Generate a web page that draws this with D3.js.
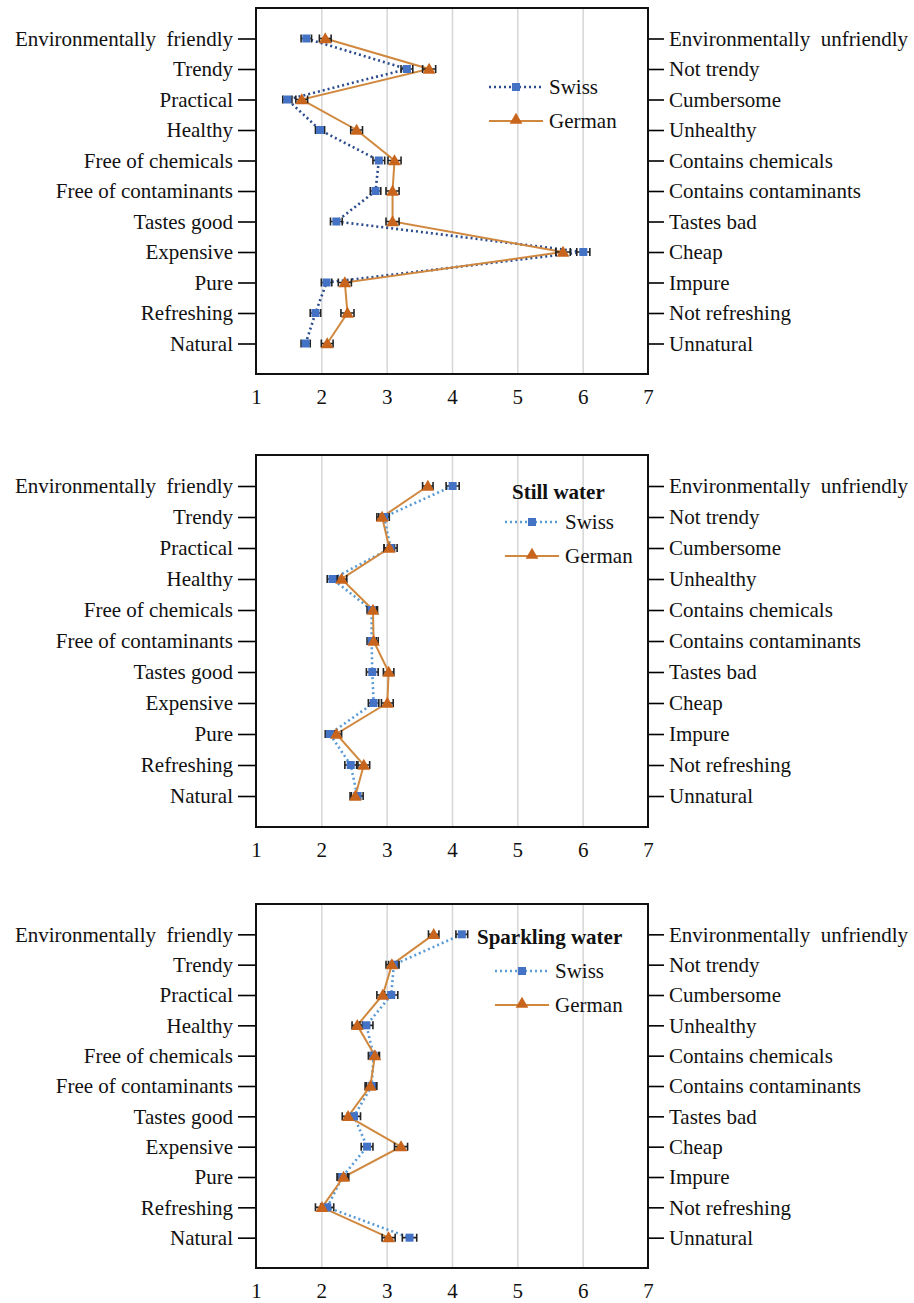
<!DOCTYPE html>
<html>
  <head>
    <meta charset="utf-8">
    <title></title>
    <style>
      body {
        margin: 0;
        background: #fff;
      }
      svg {
        display: block;
        font-family: "Liberation Serif", "Times New Roman", serif;
      }
      .axis .domain {
        stroke: none;
      }
      .labels line {
        stroke: #000;
        stroke-width: 1.6;
      }
      .labels text {
        font-family: "Liberation Serif", "Times New Roman", serif;
        font-size: 21px;
        fill: #111;
        white-space: pre;
      }
      .grid line {
        stroke: #d6d6d6;
        stroke-width: 1.5;
      }
    </style>
  </head>
  <body>
    <svg id="chart" width="914" height="1303"></svg>
    <script src="https://cdn.jsdelivr.net/npm/d3@7"></script>
    <script>

      // semantic differential, pole on the left = 1, pole on the right = 7
      let leftLabels = ["Environmentally  friendly", "Trendy", "Practical", "Healthy", "Free of chemicals",
        "Free of contaminants", "Tastes good", "Expensive", "Pure", "Refreshing", "Natural"];
      let rightLabels = ["Environmentally  unfriendly", "Not trendy", "Cumbersome", "Unhealthy", "Contains chemicals",
        "Contains contaminants", "Tastes bad", "Cheap", "Impure", "Not refreshing", "Unnatural"];
      let xTicks = [1, 2, 3, 4, 5, 6, 7];
      let seriesNames = ["Swiss", "German"];
      let panelTitles = [null, "Still water", "Sparkling water"];

      // all water
      let allSwiss = [1.77, 3.31, 1.48, 1.98, 2.88, 2.83, 2.23, 6.01, 2.08, 1.91, 1.76];
      let allSwissErr = [0.08, 0.09, 0.07, 0.07, 0.09, 0.08, 0.09, 0.10, 0.08, 0.08, 0.07];
      let allGerman = [2.06, 3.65, 1.70, 2.54, 3.12, 3.09, 3.09, 5.70, 2.36, 2.40, 2.09];
      let allGermanErr = [0.09, 0.10, 0.09, 0.09, 0.10, 0.10, 0.10, 0.11, 0.10, 0.10, 0.09];

      // still water
      let stillSwiss = [4.01, 2.96, 3.06, 2.17, 2.77, 2.77, 2.78, 2.80, 2.13, 2.45, 2.55];
      let stillSwissErr = [0.10, 0.08, 0.10, 0.08, 0.07, 0.07, 0.09, 0.08, 0.07, 0.09, 0.09];
      let stillGerman = [3.63, 2.93, 3.04, 2.31, 2.79, 2.80, 3.03, 3.01, 2.23, 2.65, 2.52];
      let stillGermanErr = [0.08, 0.08, 0.08, 0.08, 0.07, 0.07, 0.08, 0.09, 0.08, 0.09, 0.08];

      // sparkling water
      let sparkSwiss = [4.15, 3.11, 3.07, 2.69, 2.80, 2.77, 2.50, 2.70, 2.32, 2.09, 3.35];
      let sparkSwissErr = [0.09, 0.08, 0.10, 0.10, 0.08, 0.08, 0.10, 0.09, 0.08, 0.10, 0.11];
      let sparkGerman = [3.72, 3.08, 2.94, 2.55, 2.82, 2.75, 2.41, 3.22, 2.34, 2.01, 3.03];
      let sparkGermanErr = [0.08, 0.09, 0.09, 0.08, 0.07, 0.08, 0.09, 0.10, 0.08, 0.10, 0.10];

      let panels = [
        {top: 8, bottom: 374, swiss: allSwiss, swissErr: allSwissErr, german: allGerman, germanErr: allGermanErr,
          swissLine: "#2b4c8c", legend: {x: 489, y: 87}},
        {top: 455, bottom: 827, swiss: stillSwiss, swissErr: stillSwissErr, german: stillGerman, germanErr: stillGermanErr,
          swissLine: "#5b9bd5", legend: {x: 505, y: 522, titleX: 512, titleY: 492}},
        {top: 904, bottom: 1268, swiss: sparkSwiss, swissErr: sparkSwissErr, german: sparkGerman, germanErr: sparkGermanErr,
          swissLine: "#5b9bd5", legend: {x: 495, y: 971, titleX: 477, titleY: 937}}
      ];

      let svg = d3.select("#chart");
      let left = 256, right = 648;
      let swissFill = "#4472c4";
      let germanLine = "#d0883f";
      let germanFill = "#c8641c";

      let x = d3.scaleLinear().domain([1, 7]).range([left, right]);
      let triangle = d3.symbol().type(d3.symbolTriangle).size(70);

      panels.forEach((p, pi) => {
        let y = d3.scaleLinear().domain([0, 12]).range([p.top, p.bottom]);
        let rows = d3.range(1, 12);
        let height = p.bottom - p.top;
        let g = svg.append("g");

        g.append("g")
          .attr("class", "axis grid")
          .attr("transform", "translate(0," + p.bottom + ")")
          .call(d3.axisBottom(x).tickValues([2, 3, 4, 5, 6]).tickSize(height).tickSizeOuter(0).tickFormat(""))
          .selectAll("line").attr("y2", -height);

        g.append("g")
          .attr("class", "axis labels")
          .attr("transform", "translate(" + left + ",0)")
          .call(d3.axisLeft(y).tickValues(rows).tickSize(18).tickPadding(5)
            .tickFormat(d => leftLabels[d - 1]));

        g.append("g")
          .attr("class", "axis labels")
          .attr("transform", "translate(" + right + ",0)")
          .call(d3.axisRight(y).tickValues(rows).tickSize(16).tickPadding(5)
            .tickFormat(d => rightLabels[d - 1]));

        g.append("g")
          .attr("class", "axis labels")
          .attr("transform", "translate(0," + p.bottom + ")")
          .call(d3.axisBottom(x).tickValues(xTicks).tickSize(0).tickPadding(15).tickFormat(d3.format("d")));

        g.append("rect")
          .attr("x", left).attr("y", p.top)
          .attr("width", right - left).attr("height", height)
          .attr("fill", "none").attr("stroke", "#111").attr("stroke-width", 2);

        let series = [
          {vals: p.swiss, err: p.swissErr, stroke: p.swissLine, dash: "2,3", width: 2.6},
          {vals: p.german, err: p.germanErr, stroke: germanLine, dash: null, width: 2}
        ];

        series.forEach(s => {
          let line = d3.line().x(d => x(d)).y((d, i) => y(i + 1));
          g.append("path")
            .datum(s.vals)
            .attr("fill", "none")
            .attr("stroke", s.stroke)
            .attr("stroke-width", s.width)
            .attr("stroke-dasharray", s.dash)
            .attr("d", line);
        });

        series.forEach(s => {
          g.append("g").selectAll("path")
            .data(s.vals)
            .join("path")
            .attr("fill", "none")
            .attr("stroke", "#222")
            .attr("stroke-width", 1.6)
            .attr("d", (d, i) => {
              let x0 = x(d - s.err[i]), x1 = x(d + s.err[i]), yy = y(i + 1);
              return "M" + x0 + "," + (yy - 4) + "V" + (yy + 4) +
                "M" + x0 + "," + yy + "H" + x1 +
                "M" + x1 + "," + (yy - 4) + "V" + (yy + 4);
            });
        });

        g.append("g").selectAll("rect")
          .data(p.swiss)
          .join("rect")
          .attr("x", d => x(d) - 4)
          .attr("y", (d, i) => y(i + 1) - 4)
          .attr("width", 8).attr("height", 8)
          .attr("fill", swissFill);

        g.append("g").selectAll("path")
          .data(p.german)
          .join("path")
          .attr("d", triangle)
          .attr("transform", (d, i) => "translate(" + x(d) + "," + (y(i + 1) + 1) + ")")
          .attr("fill", germanFill);

        // legend
        let lg = g.append("g").attr("transform", "translate(" + p.legend.x + "," + p.legend.y + ")");
        if (panelTitles[pi]) {
          g.append("text")
            .attr("x", p.legend.titleX).attr("y", p.legend.titleY)
            .attr("dy", "0.35em")
            .style("font-size", "21px").style("font-weight", "bold").attr("fill", "#111")
            .text(panelTitles[pi]);
        }
        let gap = 34;
        lg.append("line").attr("x1", 0).attr("x2", 54).attr("y1", 0).attr("y2", 0)
          .attr("stroke", p.swissLine).attr("stroke-width", 2.6).attr("stroke-dasharray", "2,3");
        lg.append("rect").attr("x", 23).attr("y", -4).attr("width", 8).attr("height", 8).attr("fill", swissFill);
        lg.append("line").attr("x1", 0).attr("x2", 54).attr("y1", gap).attr("y2", gap)
          .attr("stroke", germanLine).attr("stroke-width", 2);
        lg.append("path").attr("d", triangle).attr("transform", "translate(27," + (gap - 1) + ")").attr("fill", germanFill);
        lg.selectAll("text.name")
          .data(seriesNames)
          .join("text")
          .attr("class", "name")
          .attr("x", 60)
          .attr("y", (d, i) => i * gap)
          .attr("dy", "0.35em")
          .style("font-size", "21px").attr("fill", "#111")
          .text(d => d);
      });

    </script>
  </body>
</html>
